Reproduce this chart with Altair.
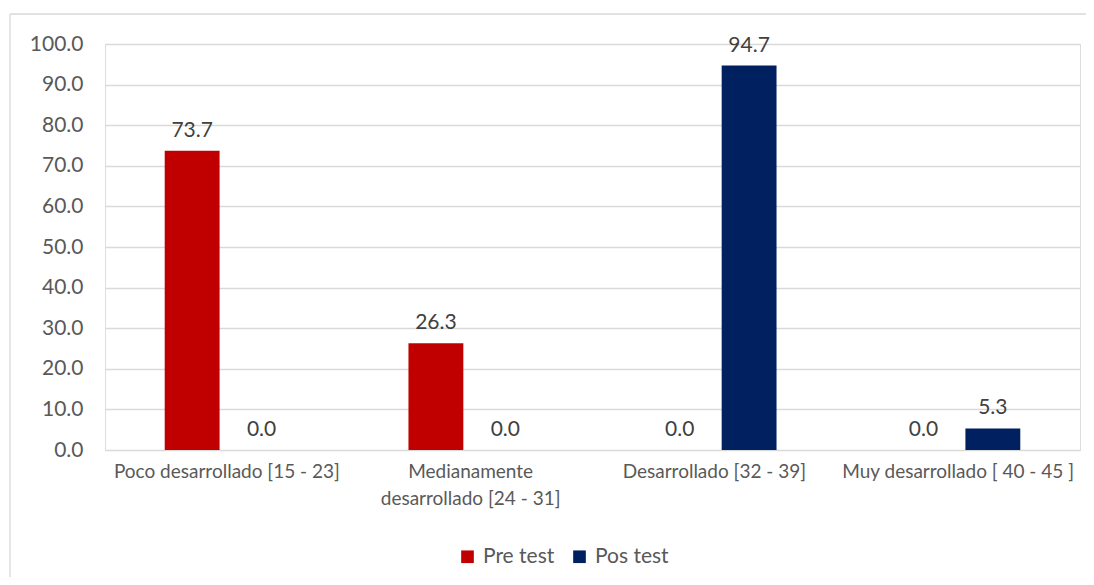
import altair as alt
import pandas as pd

categories = ["Poco desarrollado [15 - 23]", "Medianamente\ndesarrollado [24 - 31]",
              "Desarrollado [32 - 39]", "Muy desarrollado [ 40 - 45 ]"]
series = ["Pre test", "Pos test"]
pre_test = [73.7, 26.3, 0.0, 0.0]
pos_test = [0.0, 0.0, 94.7, 5.3]
colors = ["#C00000", "#002060"]

rows = []
for c, a, b in zip(categories, pre_test, pos_test):
    rows.append({"cat": c, "serie": "Pre test", "val": a})
    rows.append({"cat": c, "serie": "Pos test", "val": b})
df = pd.DataFrame(rows)

FONT = "Lato"
GRAY = "#595959"

x = alt.X("cat:N", sort=categories, title=None,
          scale=alt.Scale(paddingInner=0.49, paddingOuter=0.245),
          axis=alt.Axis(labelExpr="split(datum.label, '\\n')", labelAngle=0,
                        labelFontSize=19, labelColor=GRAY, labelFont=FONT,
                        labelPadding=12, domain=False, ticks=False,
                        labelLineHeight=27, labelBaseline="top",
                        labelLimit=400))
xo = alt.XOffset("serie:N", sort=series,
                 scale=alt.Scale(paddingInner=0.21, paddingOuter=0))
y = alt.Y("val:Q", title=None,
          scale=alt.Scale(domain=[0, 100], nice=False),
          axis=alt.Axis(values=list(range(0, 101, 10)), format=".1f",
                        labelFontSize=21, labelColor=GRAY, labelFont=FONT,
                        labelPadding=22, domain=False, ticks=False,
                        gridColor="#D9D9D9", gridWidth=1.3))
color = alt.Color("serie:N", sort=series, title=None,
                  scale=alt.Scale(domain=series, range=colors),
                  legend=alt.Legend(orient="none", legendX=352, legendY=502,
                                    direction="horizontal", symbolType="square",
                                    symbolSize=160, symbolStrokeWidth=0,
                                    labelFontSize=21, labelColor=GRAY,
                                    labelFont=FONT, columnPadding=14,
                                    labelOffset=5))

frame = pd.DataFrame({"k": [0]})
border_top = alt.Chart(frame).mark_rule(color="#D9D9D9", strokeWidth=1.3).encode(
    x=alt.value(-95), x2=alt.value(1000), y=alt.value(-30))
border_left = alt.Chart(frame).mark_rule(color="#D9D9D9", strokeWidth=1.3).encode(
    x=alt.value(-95), y=alt.value(-30), y2=alt.value(700))

bars = alt.Chart(df).mark_bar().encode(x=x, xOffset=xo, y=y, color=color)
labels = alt.Chart(df).mark_text(baseline="bottom", dy=-10, fontSize=21,
                                 font=FONT, color="#404040").encode(
    x=x, xOffset=xo, y=y, text=alt.Text("val:Q", format=".1f"))

chart = (border_top + border_left + bars + labels).properties(
    width=975, height=406,
    autosize=alt.AutoSizeParams(type="none"),
    padding={"left": 97, "top": 36, "right": 6, "bottom": 127},
).configure_view(stroke=None).configure(background="white")

chart.save("out.html", embed_options={"renderer": "svg", "actions": False})
